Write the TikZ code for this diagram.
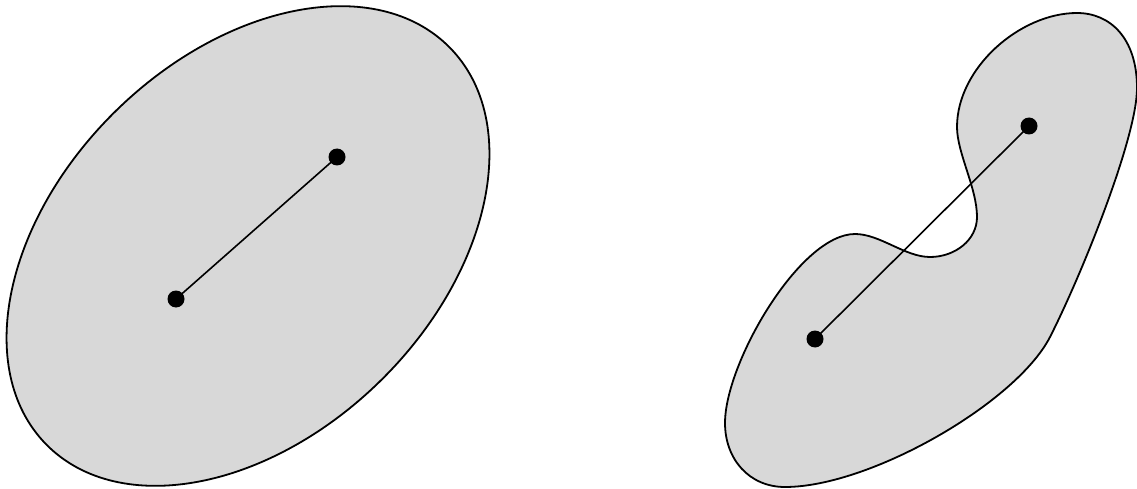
\documentclass[tikz,border=0pt]{standalone}
\usepackage{tikz}
\definecolor{setgray}{HTML}{D8D8D8}

\begin{document}
\begin{tikzpicture}[
    x=1pt,
    y=1pt,
    region/.style={draw=black, line width=1.8pt, fill=setgray},
    dot/.style={circle, fill=black, inner sep=0pt, minimum size=17pt},
    chord/.style={draw=black, line width=1.6pt}
  ]
    \useasboundingbox (0,0) rectangle (1137,488);

    % convex set
    \draw[region, rotate around={44.5:(248,242)}] (248,242) ellipse [x radius=283pt, y radius=189pt];
    \node[dot] (convA) at (176,189) {};
    \node[dot] (convB) at (337,331) {};
    \draw[chord] (convA.center) -- (convB.center);

    % non-convex set
    \draw[region] (1050,151)
      .. controls (1016,85) and (870,1) .. (785,1)
      .. controls (749,1) and (725,29) .. (725,65)
      .. controls (725,125) and (800,254) .. (855,254)
      .. controls (880,254) and (905,231) .. (930,231)
      .. controls (955,231) and (977,248) .. (977,271)
      .. controls (977,300) and (957,335) .. (957,361)
      .. controls (957,420) and (1020,475) .. (1077,475)
      .. controls (1110,475) and (1137,450) .. (1137,400)
      .. controls (1137,350) and (1081,212) .. (1050,151) -- cycle;
    \node[dot] (nonA) at (815,149) {};
    \node[dot] (nonB) at (1029,362) {};
    \draw[chord] (nonA.center) -- (nonB.center);
  \end{tikzpicture}
\end{document}
